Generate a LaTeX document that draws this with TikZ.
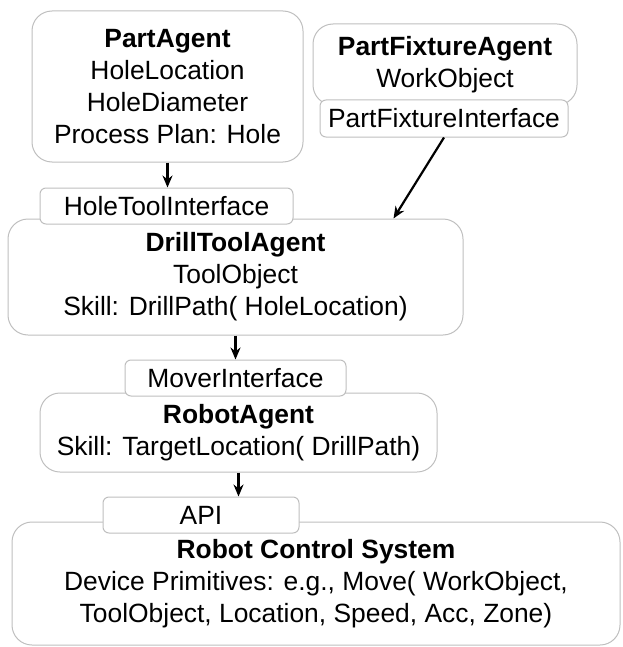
\documentclass[tikz,border=0pt]{standalone}
\usepackage{fontspec}
\setmainfont{Liberation Sans}
\usetikzlibrary{arrows.meta,calc}

\tikzset{
  agent/.style={draw=gray!50, line width=0.5pt, rounded corners=10pt, align=center, inner sep=0pt},
  iface/.style={draw=gray!50, line width=0.5pt, rounded corners=3pt, fill=white, align=center, inner sep=0pt},
  flow/.style={-{Stealth[length=6pt,width=5pt]}, line width=1.1pt}
}

\begin{document}
\begin{tikzpicture}[x=0.5pt,y=-0.5pt,font=\fontsize{13.2}{16}\selectfont]
\useasboundingbox (0,0) rectangle (622,647);
% 各个 agent
\node[agent, minimum width=135.5pt, minimum height=75.5pt] (partagent) at (167.5,86.5)
  {\textbf{PartAgent}\\HoleLocation\\HoleDiameter\\Process Plan: Hole};
\node[agent, minimum width=132pt, minimum height=40.5pt] (fixagent) at (445,64.5)
  {\textbf{PartFixtureAgent}\\WorkObject};
\node[agent, minimum width=227.5pt, minimum height=58pt] (drill) at (235.5,277)
  {\textbf{DrillToolAgent}\\ToolObject\\Skill: DrillPath( HoleLocation)};
\node[agent, minimum width=198.5pt, minimum height=39.5pt] (robot) at (238.5,432.5)
  {\textbf{RobotAgent}\\Skill: TargetLocation( DrillPath)};
\node[agent, minimum width=304pt, minimum height=61.5pt] (rcs) at (316,583.5)
  {\textbf{Robot Control System}\\Device Primitives: e.g., Move( WorkObject,\\ToolObject, Location, Speed, Acc, Zone)};
% 接口
\node[iface, minimum width=124pt, minimum height=18.5pt] (fixif) at (444,118.5) {PartFixtureInterface};
\node[iface, minimum width=126.5pt, minimum height=18pt] (holeif) at (166.5,206) {HoleToolInterface};
\node[iface, minimum width=110.5pt, minimum height=18pt] (moverif) at (235.5,378) {MoverInterface};
\node[iface, minimum width=98pt, minimum height=18pt] (apiif) at (201,515) {API};
% 箭头
\draw[flow] (partagent.south) -- (partagent.south |- holeif.north);
\draw[flow] (fixif.south) -- ($(drill.north east)+(-70,0)$);
\draw[flow] (drill.south) -- (moverif.north);
\draw[flow] (robot.south) -- (robot.south |- apiif.north);
\end{tikzpicture}
\end{document}
